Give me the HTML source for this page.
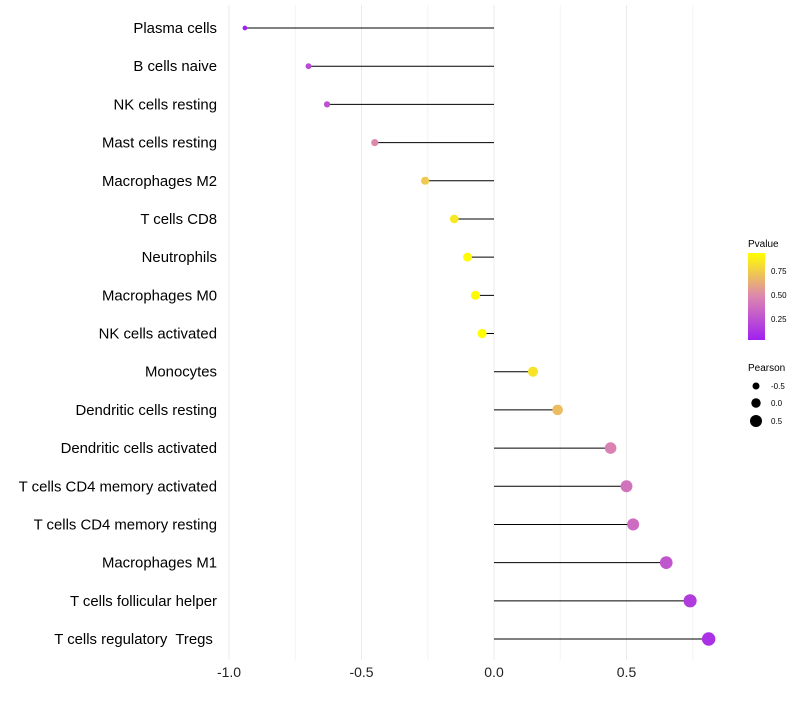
<!DOCTYPE html>
<html><head><meta charset="utf-8"><style>
body{margin:0;background:#fff;font-family:"Liberation Sans",sans-serif;}
svg text{font-family:"Liberation Sans",sans-serif;white-space:pre;}
</style></head><body>
<svg id="chart" width="800" height="700" xmlns="http://www.w3.org/2000/svg">
<g id="grid"></g>
<g id="marks"></g>
<g id="ylabels"></g>
<g id="xlabels"></g>
<g id="legend">
<defs><linearGradient id="pg" x1="0" y1="1" x2="0" y2="0">
<stop offset="0" stop-color="#A020F0"/><stop offset="0.5" stop-color="#DC86B0"/><stop offset="1" stop-color="#FFFF00"/></linearGradient></defs>
<text x="748" y="247" font-size="10">Pvalue</text>
<rect x="748" y="253" width="17" height="87" fill="url(#pg)"/>
<text x="771" y="274" font-size="8">0.75</text>
<text x="771" y="298" font-size="8">0.50</text>
<text x="771" y="322" font-size="8">0.25</text>
<text x="748" y="371" font-size="10">Pearson</text>
<circle cx="756" cy="386" r="3.5" fill="#000"/>
<circle cx="756" cy="403" r="4.7" fill="#000"/>
<circle cx="756" cy="421" r="6" fill="#000"/>
<text x="771" y="389" font-size="8">-0.5</text>
<text x="771" y="406" font-size="8">0.0</text>
<text x="771" y="424" font-size="8">0.5</text>
</g>
</svg>
<script>
const categories=["Plasma cells","B cells naive","NK cells resting","Mast cells resting","Macrophages M2","T cells CD8","Neutrophils","Macrophages M0","NK cells activated","Monocytes","Dendritic cells resting","Dendritic cells activated","T cells CD4 memory activated","T cells CD4 memory resting","Macrophages M1","T cells follicular helper","T cells regulatory  Tregs "];
const pearson=[-0.94,-0.70,-0.63,-0.45,-0.26,-0.15,-0.10,-0.07,-0.045,0.147,0.24,0.44,0.50,0.525,0.65,0.74,0.81];
const pvalue=[0.02,0.22,0.25,0.5,0.75,0.87,0.95,0.94,0.96,0.85,0.7,0.47,0.4,0.37,0.27,0.15,0.1];
const xticks=[-1,-0.5,0,0.5];
const xtickLabels=["-1.0","-0.5","0.0","0.5"];
const NS="http://www.w3.org/2000/svg";
const xs=v=>494+v*265;
const ys=i=>28+i*(611/16);
function mk(t,a,p){const e=document.createElementNS(NS,t);for(const k in a)e.setAttribute(k,a[k]);p.appendChild(e);return e;}
function lerp(a,b,t){return a.map((v,i)=>Math.round(v+(b[i]-v)*t));}
function col(p){let t=Math.max(0,Math.min(1,(p-0.02)/0.94));const A=[160,32,240],M=[220,134,176],B=[255,255,0];const c=t<0.5?lerp(A,M,t*2):lerp(M,B,(t-0.5)*2);return `rgb(${c})`;}
const grid=document.getElementById('grid'),marks=document.getElementById('marks'),yl=document.getElementById('ylabels'),xl=document.getElementById('xlabels');
for(let v=-1;v<=0.76;v+=0.25){
const g=mk('line',{x1:xs(v),x2:xs(v),y1:5,y2:660,stroke:Math.abs(v*4)%2<0.01?'#ebebeb':'#f4f4f4','stroke-width':1},grid);


}
xticks.forEach((v,i)=>{
const t=mk('text',{x:xs(v),y:677,'font-size':14,'text-anchor':'middle',fill:'#222'},xl);t.textContent=xtickLabels[i];


});
categories.forEach((c,i)=>{
const y=ys(i);
const t=mk('text',{x:217,y:y+5,'font-size':14.9,'text-anchor':'end',fill:'#000'},yl);t.textContent=c;


const l=mk('line',{x1:xs(0),x2:xs(pearson[i]),y1:y,y2:y,stroke:'#000','stroke-width':1},marks);


const r=Math.max(1.5,4.7+2.5*pearson[i]);
const d=mk('circle',{cx:xs(pearson[i]),cy:y,r:r,fill:col(pvalue[i])},marks);


});
</script>
</body></html>
